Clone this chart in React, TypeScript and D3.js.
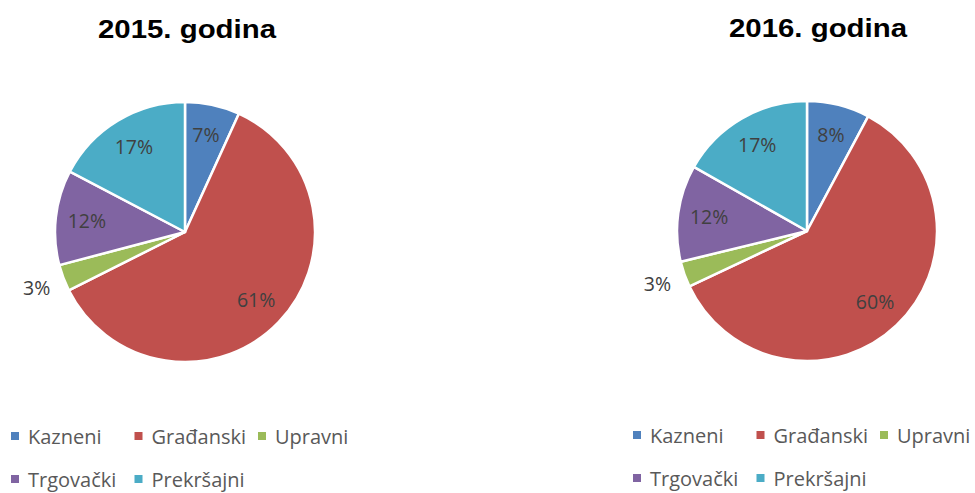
import React from "react";
import * as d3 from "d3";

const categories = ["Kazneni", "Građanski", "Upravni", "Trgovački", "Prekršajni"];
const values2015 = [6.8, 60.8, 3.3, 11.8, 17.3];
const values2016 = [7.8, 60.2, 3.2, 12.0, 16.8];
const titles = ["2015. godina", "2016. godina"];
const colors = ["#4F81BD", "#C0504D", "#9BBB59", "#8064A2", "#4BACC6"];

const LABEL_FONT = "'Open Sans', 'Noto Sans', sans-serif";

type PieProps = {
  title: string;
  values: number[];
  cx: number;
  cy: number;
  r: number;
  titleX: number;
  titleY: number;
  legendX: number;
  legendY: number;
};

function PieChart({ title, values, cx, cy, r, titleX, titleY, legendX, legendY }: PieProps) {
  const data = categories.map((c, i) => ({ cat: c, value: values[i], color: colors[i] }));
  const pie = d3.pie<any>().sort(null).value((d: any) => d.value);
  const arcs = pie(data);
  const arc = d3.arc<any>().innerRadius(0).outerRadius(r);
  const inner = d3.arc<any>().innerRadius(r * 0.76).outerRadius(r * 0.76);
  const outer = d3.arc<any>().innerRadius(r * 1.22).outerRadius(r * 1.22);
  const colW = 123.5;
  const rowH = 43;
  return (
    <g>
      <text
        x={titleX}
        y={titleY}
        textAnchor="middle"
        fontFamily="'Liberation Sans', Arial, sans-serif"
        fontWeight="bold"
        fontSize={26}
        fill="#000"
        textLength={178}
        lengthAdjust="spacingAndGlyphs"
      >
        {title}
      </text>
      <g transform={`translate(${cx},${cy})`}>
        {arcs.map((a, i) => (
          <path key={i} d={arc(a) as string} fill={a.data.color} stroke="#fff" strokeWidth={2.5} strokeLinejoin="round" />
        ))}
        {arcs.map((a, i) => {
          const small = a.data.value < 5;
          const [x, y] = (small ? outer : inner).centroid(a);
          return (
            <text
              key={"l" + i}
              x={x}
              y={y}
              dy="0.35em"
              textAnchor="middle"
              fontFamily={LABEL_FONT}
              fontSize={19.5}
              fill="#404040"
            >
              {Math.round(a.data.value) + "%"}
            </text>
          );
        })}
      </g>
      <g transform={`translate(${legendX},${legendY})`}>
        {categories.map((c, i) => {
          const col = i < 3 ? i : i - 3;
          const row = i < 3 ? 0 : 1;
          const x = col * colW;
          const y = row * rowH;
          return (
            <g key={c} transform={`translate(${x},${y})`}>
              <rect x={0} y={-12} width={8} height={8} fill={colors[i]} />
              <text x={17} y={0} fontFamily={LABEL_FONT} fontSize={20} fill="#595959">
                {c}
              </text>
            </g>
          );
        })}
      </g>
    </g>
  );
}

export default function App() {
  return (
    <svg
      width={975}
      height={493}
      style={{ position: "absolute", left: 0, top: 0, background: "#fff" }}
    >
      <rect width={975} height={493} fill="#fff" />
      <PieChart
        title={titles[0]}
        values={values2015}
        cx={185}
        cy={232}
        r={130}
        titleX={187}
        titleY={38}
        legendX={11}
        legendY={444}
      />
      <PieChart
        title={titles[1]}
        values={values2016}
        cx={807}
        cy={231}
        r={130}
        titleX={818}
        titleY={37}
        legendX={633}
        legendY={443}
      />
    </svg>
  );
}
